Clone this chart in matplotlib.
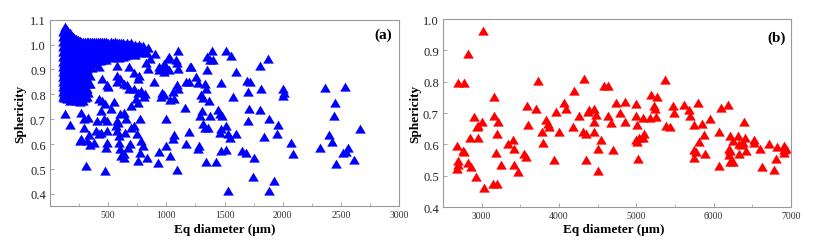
import matplotlib
matplotlib.use("Agg")
import matplotlib.pyplot as plt
from matplotlib.ticker import MultipleLocator, FormatStrFormatter

# ---------------- data: panel (a) ----------------
# dense cluster (small particles), column x positions and their sphericity values
a_dense_col_x = [110, 125, 145, 170, 195, 225, 255, 285, 315, 345, 380, 415,
                 450, 485, 520, 555, 590, 625, 660, 695, 730, 765, 800]
a_dense_col_y = [
    [1.05, 1.03, 1.01, 0.99, 0.97, 0.95, 0.93, 0.91, 0.89, 0.87, 0.85, 0.83, 0.81, 0.79],
    [1.07, 1.045, 1.02, 0.995, 0.975, 0.95, 0.93, 0.905, 0.885, 0.86, 0.84, 0.815, 0.795],
    [1.058, 1.035, 1.01, 0.985, 0.96, 0.94, 0.915, 0.895, 0.87, 0.85, 0.825, 0.80, 0.78],
    [1.045, 1.025, 1.0, 0.98, 0.955, 0.935, 0.91, 0.89, 0.865, 0.845, 0.82, 0.79, 0.775],
    [1.032, 1.015, 0.995, 0.97, 0.95, 0.925, 0.905, 0.88, 0.86, 0.835, 0.81, 0.785],
    [1.022, 1.005, 0.985, 0.96, 0.94, 0.915, 0.895, 0.87, 0.85, 0.82, 0.80, 0.775],
    [1.015, 0.995, 0.975, 0.95, 0.93, 0.905, 0.88, 0.84, 0.815, 0.79, 0.77],
    [1.012, 0.99, 0.965, 0.945, 0.92, 0.895, 0.865, 0.83, 0.80, 0.775],
    [1.012, 0.99, 0.97, 0.945, 0.92, 0.90, 0.855, 0.82, 0.79],
    [1.012, 0.985, 0.96, 0.935, 0.91, 0.875, 0.84],
    [1.012, 0.99, 0.965, 0.945, 0.92],
    [1.012, 0.99, 0.97, 0.95],
    [1.012, 0.99, 0.965, 0.94],
    [1.01, 0.985, 0.96, 0.94],
    [1.01, 0.985, 0.965, 0.945],
    [1.01, 0.99, 0.97, 0.95],
    [1.008, 0.985, 0.96, 0.945],
    [1.008, 0.99, 0.965, 0.95],
    [1.005, 0.985, 0.96],
    [1.005, 0.985, 0.965],
    [1.0, 0.98, 0.96],
    [1.0, 0.985, 0.965],
    [0.995, 0.975],
]
# in-between columns of the same cluster
a_dense2_col_x = [118, 135, 158, 183, 210, 240, 270, 300, 330, 362, 398, 432,
                  468, 502, 538, 572, 608, 642, 678, 712, 748, 782]
a_dense2_col_y = [
    [1.06, 1.04, 1.02, 1.0, 0.98, 0.96, 0.94, 0.92, 0.90, 0.88, 0.86, 0.84, 0.82, 0.80, 0.785],
    [1.06, 1.035, 1.01, 0.985, 0.965, 0.94, 0.92, 0.895, 0.875, 0.85, 0.83, 0.805, 0.785],
    [1.048, 1.025, 1.0, 0.975, 0.95, 0.93, 0.905, 0.885, 0.86, 0.84, 0.815, 0.79],
    [1.038, 1.015, 0.99, 0.965, 0.945, 0.92, 0.90, 0.875, 0.855, 0.83, 0.805, 0.78],
    [1.028, 1.005, 0.985, 0.96, 0.935, 0.915, 0.89, 0.87, 0.845, 0.825, 0.80],
    [1.018, 0.995, 0.975, 0.95, 0.93, 0.905, 0.885, 0.86, 0.835, 0.81, 0.785],
    [1.012, 0.99, 0.965, 0.94, 0.92, 0.895, 0.86, 0.83, 0.805, 0.78],
    [1.012, 0.985, 0.96, 0.935, 0.91, 0.88, 0.845, 0.815, 0.785],
    [1.01, 0.985, 0.96, 0.935, 0.91, 0.88, 0.84, 0.805],
    [1.01, 0.98, 0.955, 0.93, 0.905],
    [1.01, 0.98, 0.955, 0.935],
    [1.01, 0.98, 0.955, 0.935],
    [1.01, 0.978, 0.955],
    [1.008, 0.975, 0.955],
    [1.008, 0.978, 0.955],
    [1.005, 0.978, 0.958],
    [1.005, 0.975, 0.955],
    [1.0, 0.975, 0.955],
    [1.0, 0.975],
    [0.995, 0.97],
    [0.99, 0.97],
    [0.99, 0.97],
]

# scattered points (larger particles)
a_x = [1391, 1509, 1557, 1348, 1379, 1399, 1874, 1802, 1207, 1348, 1601, 1256,
       1170, 1270, 1328, 1471, 1695, 1721, 1342, 1701, 1816, 2003, 2009, 2003,
       1572, 1299, 1313, 1365, 2362, 2535, 2448, 2439, 1160, 1707, 1802, 1307,
       1290, 1443, 1457, 1480, 1377, 1701, 1882, 1960, 1319, 1336, 1356, 1509,
       1471, 1457, 1198, 1529, 1601, 1549, 1836, 1954, 2664, 2400, 2420, 2069,
       1170, 1279, 1270, 2319, 2564, 2544, 2521, 1471, 1509, 1652, 1687, 1750,
       2089, 2615, 1342, 1428, 2457, 1744, 1925, 1882, 1529,
       1096, 1024, 1082, 1090, 1096, 1010, 976, 1001, 938, 983, 1024, 938,
       901, 838, 832, 861, 824, 838, 890, 1090, 1096, 1053, 1033, 1067,
       961, 952, 981, 815, 804, 752, 738, 752, 695, 766, 758, 723, 680,
       580, 580, 603, 574, 637, 666, 489, 500, 451, 423, 317, 546, 474, 446,
       423, 523, 437, 680, 723, 781, 603, 632, 580, 652, 586, 566, 695, 723,
       746, 775, 996, 580, 595, 646, 494, 466, 408, 394, 423, 494, 328, 294,
       294, 265, 173, 127, 265, 345, 380, 337, 259, 317, 437, 480, 494, 595,
       603, 632, 637, 672, 609, 689, 752, 781, 795, 775, 832, 938, 924, 996,
       1033, 1067, 1053, 308, 470, 1090, 1196, 1216]
a_y = [0.975, 0.975, 0.955, 0.952, 0.938, 0.938, 0.942, 0.915, 0.908, 0.899, 0.890, 0.868,
       0.850, 0.845, 0.841, 0.845, 0.854, 0.850, 0.821, 0.810, 0.821, 0.821, 0.807, 0.794,
       0.791, 0.796, 0.787, 0.774, 0.825, 0.831, 0.764, 0.713, 0.747, 0.740, 0.736, 0.733,
       0.713, 0.736, 0.720, 0.713, 0.713, 0.693, 0.702, 0.676, 0.680, 0.666, 0.666, 0.673,
       0.662, 0.646, 0.649, 0.639, 0.639, 0.626, 0.630, 0.639, 0.660, 0.635, 0.608, 0.606,
       0.599, 0.592, 0.579, 0.585, 0.585, 0.569, 0.565, 0.572, 0.576, 0.572, 0.563, 0.545,
       0.561, 0.538, 0.528, 0.529, 0.522, 0.469, 0.451, 0.413, 0.411,
       0.975, 0.952, 0.939, 0.925, 0.901, 0.942, 0.924, 0.908, 0.908, 0.891, 0.899, 0.897,
       0.962, 0.985, 0.966, 0.944, 0.928, 0.901, 0.848, 0.837, 0.821, 0.810, 0.778, 0.780,
       0.805, 0.791, 0.796, 0.800, 0.791, 0.805, 0.780, 0.767, 0.753, 0.874, 0.861, 0.885, 0.908,
       0.915, 0.874, 0.861, 0.848, 0.841, 0.837, 0.837, 0.831, 0.861, 0.908, 0.861, 0.771, 0.760, 0.774,
       0.780, 0.740, 0.733, 0.823, 0.823, 0.814, 0.720, 0.727, 0.693, 0.700, 0.684, 0.673, 0.666, 0.673,
       0.642, 0.702, 0.700, 0.653, 0.633, 0.646, 0.693, 0.700, 0.693, 0.653, 0.639, 0.653, 0.706, 0.666,
       0.700, 0.724, 0.676, 0.720, 0.619, 0.595, 0.606, 0.635, 0.612, 0.612, 0.646, 0.585, 0.606, 0.606,
       0.579, 0.559, 0.545, 0.585, 0.552, 0.599, 0.532, 0.612, 0.592, 0.565, 0.545, 0.568, 0.525, 0.592,
       0.552, 0.635, 0.619, 0.512, 0.491, 0.495, 0.850, 0.908]

# ---------------- data: panel (b) ----------------
b_x = [2681, 2690, 2776, 2828, 3013, 2681, 2690, 2695, 2754, 2770, 2853, 2828,
       2862, 2905, 2957, 2940, 2957, 3000, 2927, 3026, 3155, 3155, 3142, 3198,
       3185, 3198, 3216, 3250, 3336, 3405, 3414, 3422, 3466, 3552, 3574, 3582,
       3604, 3703, 3733, 3776, 3789, 3832, 3854, 3875, 3931, 3962, 4005, 4069,
       4091, 4177, 4199, 4263, 4307, 4328, 4350, 4350, 4371, 4393, 4457, 4449,
       4449, 4479, 4500, 4509, 4544, 4578, 4630, 4638, 4673, 4695, 4738, 4794,
       4859, 4859, 5000, 5000, 5009, 4996, 5009, 5018, 5030, 5083, 5096, 5083,
       5182, 5190, 5224, 5242, 5255, 5268, 5372, 5384, 5440, 5470, 5492, 5613,
       5686, 5699, 5742, 5742, 5742, 5772, 5794, 5815, 5846, 5871, 5888, 5957,
       6074, 6074, 6096, 6191, 6217, 6204, 6217, 6217, 6247, 6204, 6247, 6312,
       6325, 6333, 6355, 6376, 6407, 6398, 6420, 6527, 6527, 6605, 6622, 6721,
       6777, 6816, 6803, 6915, 6906, 6915, 6932]
b_y = [0.594, 0.795, 0.795, 0.890, 0.963, 0.523, 0.546, 0.535, 0.580, 0.575, 0.620, 0.540,
       0.527, 0.688, 0.622, 0.655, 0.660, 0.673, 0.497, 0.462, 0.750, 0.690, 0.475, 0.475,
       0.572, 0.632, 0.670, 0.534, 0.602, 0.615, 0.586, 0.533, 0.512, 0.570, 0.560, 0.723,
       0.663, 0.714, 0.801, 0.641, 0.605, 0.677, 0.664, 0.655, 0.551, 0.704, 0.639, 0.733,
       0.714, 0.655, 0.770, 0.690, 0.639, 0.810, 0.634, 0.551, 0.704, 0.710, 0.714, 0.673,
       0.641, 0.693, 0.586, 0.514, 0.613, 0.788, 0.786, 0.690, 0.668, 0.581, 0.731, 0.699,
       0.735, 0.671, 0.729, 0.692, 0.663, 0.613, 0.607, 0.554, 0.620, 0.684, 0.634, 0.620,
       0.684, 0.758, 0.723, 0.714, 0.688, 0.750, 0.807, 0.658, 0.655, 0.723, 0.699, 0.727,
       0.710, 0.692, 0.663, 0.581, 0.556, 0.575, 0.733, 0.607, 0.666, 0.629, 0.570, 0.680,
       0.641, 0.531, 0.716, 0.727, 0.627, 0.586, 0.578, 0.544, 0.544, 0.567, 0.610, 0.627,
       0.600, 0.570, 0.597, 0.605, 0.620, 0.671, 0.578, 0.613, 0.605, 0.584, 0.528, 0.600,
       0.518, 0.592, 0.554, 0.595, 0.581, 0.573, 0.586]

# ---------------- figure ----------------
plt.rcParams['font.family'] = ['Liberation Serif', 'DejaVu Serif']

fig = plt.figure(figsize=(8.16, 2.51), dpi=100)
ax_a = fig.add_axes([0.0613, 0.174, 0.4277, 0.7435])
ax_b = fig.add_axes([0.5429, 0.171, 0.4265, 0.749])

dense_x = []
dense_y = []
for col_x, col_y in ((a_dense_col_x, a_dense_col_y), (a_dense2_col_x, a_dense2_col_y)):
    for cx, ys in zip(col_x, col_y):
        for yv in ys:
            dense_x.append(cx)
            dense_y.append(yv)

# slightly flattened triangle, like the reference markers
tri = [(-1.0, -0.78), (1.0, -0.78), (0.0, 0.92)]
ms = 58
ax_a.scatter(dense_x, dense_y, marker=tri, s=ms, color='#0000FF', linewidths=0)
ax_a.scatter(a_x, a_y, marker=tri, s=ms, color='#0000FF', linewidths=0)
ax_b.scatter(b_x, b_y, marker=tri, s=ms, color='#FF0000', linewidths=0)

spine_col = '#999999'
for ax in (ax_a, ax_b):
    for sp in ax.spines.values():
        sp.set_color(spine_col)
        sp.set_linewidth(0.8)
    ax.tick_params(which='both', direction='in', color=spine_col, top=False, right=False)
    ax.tick_params(which='major', length=3, width=0.6)
    ax.tick_params(which='minor', length=2, width=0.5)
    ax.tick_params(axis='x', labelsize=7, labelcolor='#333333', pad=3)
    ax.tick_params(axis='y', labelsize=9, labelcolor='#222222', pad=3)
    ax.yaxis.set_major_formatter(FormatStrFormatter('%.1f'))
    ax.set_xlabel('Eq diameter (\u03bcm)', fontsize=9.5, fontweight='bold')
    ax.set_ylabel('Sphericity', fontsize=9.5, fontweight='bold')

ax_a.set_xlim(0, 3000)
ax_a.set_ylim(0.35, 1.1)
ax_a.set_xticks([500, 1000, 1500, 2000, 2500, 3000])
ax_a.xaxis.set_minor_locator(MultipleLocator(250))
ax_a.set_yticks([0.4, 0.5, 0.6, 0.7, 0.8, 0.9, 1.0, 1.1])
ax_a.xaxis.set_label_coords(0.5, -0.088)
ax_a.yaxis.set_label_coords(-0.068, 0.5)
ax_a.text(0.954, 0.92, '(a)', transform=ax_a.transAxes, fontsize=11,
          fontweight='bold', ha='center', va='center')

ax_b.set_xlim(2500, 7000)
ax_b.set_ylim(0.4, 1.0)
ax_b.set_xticks([3000, 4000, 5000, 6000, 7000])
ax_b.xaxis.set_minor_locator(MultipleLocator(500))
ax_b.set_yticks([0.4, 0.5, 0.6, 0.7, 0.8, 0.9, 1.0])
ax_b.xaxis.set_label_coords(0.49, -0.085)
ax_b.yaxis.set_label_coords(-0.063, 0.5)
ax_b.text(0.957, 0.905, '(b)', transform=ax_b.transAxes, fontsize=11,
          fontweight='bold', ha='center', va='center')

fig.savefig('out.png', dpi=100)
